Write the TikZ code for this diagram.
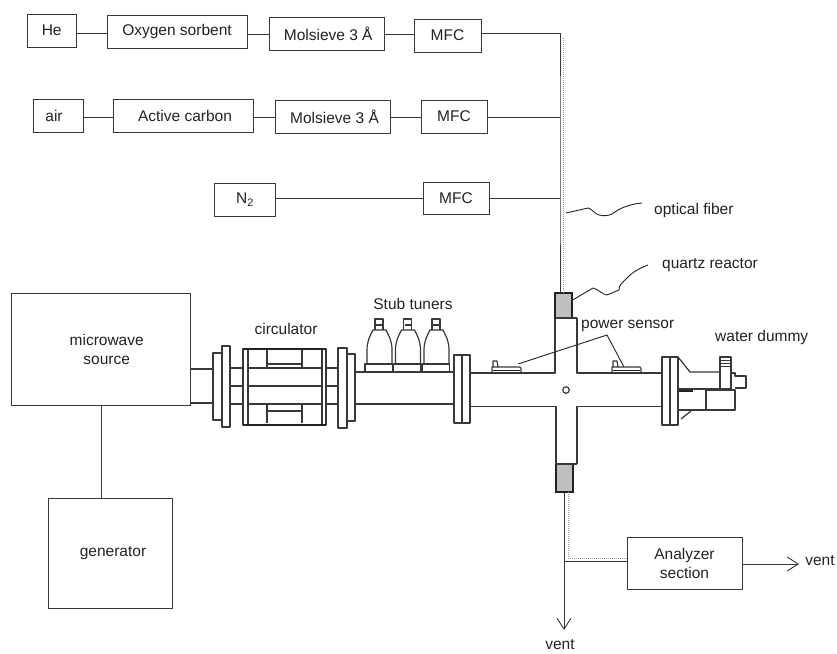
\documentclass[tikz,border=0pt]{standalone}
\usepackage{fontspec}
\setmainfont{Liberation Sans}
\usetikzlibrary{arrows.meta}
\definecolor{ink}{HTML}{222222}
\tikzset{
  bx/.style={draw=ink!90,line width=.9pt,inner sep=0pt,align=center,text=ink,font=\fontsize{15.5}{19}\selectfont},
  lbl/.style={inner sep=0pt,text=ink,align=center,font=\fontsize{15.5}{19}\selectfont},
  pipe/.style={draw=ink!90,line width=.9pt},
  fibre/.style={draw=gray!80,line width=1pt,dash pattern=on 1pt off 1pt},
  hw/.style={draw=ink!90,line width=1.2pt,line join=round},
  thickhw/.style={draw=ink,line width=2.4pt},
  lead/.style={draw=ink,line width=.9pt},
  vent/.style={draw=ink!90,line width=.9pt,-{Straight Barb[length=11pt,width=14pt,line width=.9pt]}},
  quartz/.style={draw=ink,line width=1.5pt,fill=gray!50}
}
\begin{document}
\begin{tikzpicture}[x=1pt,y=-1pt]
\useasboundingbox (0,0) rectangle (837,653);
% gas row 1
\node[bx,minimum width=49.5pt,minimum height=33pt] (he) at (51.7,30.5) {He};
\node[bx,minimum width=140pt,minimum height=33pt] (ox) at (177,31.7) {Oxygen sorbent};
\node[bx,minimum width=115pt,minimum height=33pt] (ms1) at (326.7,34) {\kern3pt Molsieve 3 Å};
\node[bx,minimum width=67pt,minimum height=33pt] (mfc1) at (447.5,35.5) {MFC};
% gas row 2
\node[bx,minimum width=50pt,minimum height=33pt] (air) at (58.5,116) {air\kern9pt};
\node[bx,minimum width=140pt,minimum height=33pt] (ac) at (183.5,116) {\kern3pt Active carbon};
\node[bx,minimum width=115pt,minimum height=33pt] (ms2) at (333,117) {\kern3pt Molsieve 3 Å};
\node[bx,minimum width=66pt,minimum height=33pt] (mfc2) at (454,116.5) {MFC};
% gas row 3
\node[bx,minimum width=61.5pt,minimum height=33pt] (n2) at (245,199.5) {N\textsubscript{2}};
\node[bx,minimum width=66pt,minimum height=32pt] (mfc3) at (456,198) {MFC};
% sinks and sources
\node[bx,minimum width=178.5pt,minimum height=112pt] (mw) at (100.7,349.5) {\kern12pt microwave\\\kern12pt source};
\node[bx,minimum width=124pt,minimum height=110pt] (gen) at (110.5,553) {\kern5pt generator};
\node[bx,minimum width=115pt,minimum height=52pt] (an) at (684.5,563) {Analyzer\\section};
% reactors
\node[quartz,minimum width=17pt,minimum height=25pt,inner sep=0pt] (qt) at (563.5,305.5) {};
\node[quartz,minimum width=17pt,minimum height=28pt,inner sep=0pt] (qb) at (564.5,478) {};
% free ends
\coordinate (j1) at (560,33.5);
\coordinate (j2) at (560,117);
\coordinate (j3) at (560,198);
\coordinate (jb) at (564,561);
\coordinate (ve) at (564,630);
\coordinate (vr) at (799,564);
% connectors
\draw[pipe] (he.east |- 0,33) -- (ox.west |- 0,33);
\draw[pipe] (ox.east |- 0,34) -- (ms1.west |- 0,34);
\draw[pipe] (ms1.east |- 0,34.5) -- (mfc1.west |- 0,34.5);
\draw[pipe] (air.east |- j2) -- (ac.west |- j2);
\draw[pipe] (ac.east |- j2) -- (ms2.west |- j2);
\draw[pipe] (ms2.east |- j2) -- (mfc2.west |- j2);
\draw[pipe] (n2.east |- j3) -- (mfc3.west |- j3);
\draw[pipe] (mfc1.east |- j1) -- (j1) -- (j2) -- (j3) -- (qt.north -| j1);
\draw[pipe] (mfc2.east |- j2) -- (j2);
\draw[pipe] (mfc3.east |- j3) -- (j3);
\draw[fibre] (563.7,38) -- (563.7,293);
\draw[pipe] (qb.south -| jb) -- (jb) -- (jb -| an.west);
\draw[vent] (jb) -- (ve);
\draw[fibre] (568,492) -- (568,558) -- (627,558);
\draw[vent] (an.east |- vr) -- (vr);
\draw[pipe] (mw.south -| 101,0) -- (gen.north -| 101,0);
% labels
\node[lbl,anchor=west] (lfib) at (654,210) {optical fiber};
\node[lbl,anchor=west] (lqz) at (662,265) {quartz reactor};
\node[lbl,anchor=west] (lps) at (581,326) {power sensor};
\node[lbl,anchor=west] (lwd) at (715,337) {water dummy};
\node[lbl] (lst) at (413,304) {Stub tuners};
\node[lbl] (lci) at (286,329) {circulator};
\node[lbl] (lv1) at (820,561) {vent};
\node[lbl] (lv2) at (560,645) {vent};
% wavy leaders
\draw[lead] (566,213) -- (588,208) .. controls (592,209) and (595,214) .. (599,215) .. controls (604,216) and (608,216) .. (612,214) .. controls (620,208) and (630,204) .. (642,203);
\draw[lead] (qt.east |- 0,300) -- (593,288) .. controls (598,289) and (603,295) .. (607,295) -- (619,290) .. controls (619,285) and (622,283) .. (625,280) .. controls (632,272) and (640,268) .. (648,265);
\draw[lead] (518,364) -- (607,335) -- (624,367);
% waveguide left
\draw[hw] (190,369) -- (213,369) (190,403) -- (213,403);
\draw[hw] (213,353) rectangle (222,420);
\draw[hw] (222,346) rectangle (230,427);
% circulator
\draw[hw] (230,368) -- (243,368) (248,368) -- (322,368) (326,368) -- (338,368);
\draw[hw] (230,386) -- (243,386) (248,386) -- (322,386) (326,386) -- (338,386);
\draw[hw] (230,404) -- (243,404) (248,404) -- (322,404) (326,404) -- (338,404);
\draw[hw] (243,349) rectangle (248,425);
\draw[hw] (322,349) rectangle (326,425);
\draw[thickhw] (243,349) -- (326,349) (243,425) -- (326,425);
\draw[hw] (267,350) -- (267,368) (302,350) -- (302,368) (267,364) -- (302,364);
\draw[hw] (267,404) -- (267,423) (302,404) -- (302,423) (267,411) -- (302,411);
% second section
\draw[hw] (338,348) rectangle (347,428);
\draw[hw] (347,354) rectangle (355,421);
\draw[hw] (355,372) -- (454,372) (355,404) -- (454,404);
\draw[hw] (454,355) rectangle (462,423);
\draw[hw] (462,355) rectangle (470,423);
% stubs
\foreach \d in {0,28.5,57}{
\begin{scope}[xshift=\d pt]
\draw[hw] (365,364) rectangle (392.5,372);
\draw[hw] (367,364) -- (367,350) .. controls (367,341) and (370,336) .. (373,330) -- (386,330) .. controls (389,336) and (392,341) .. (392,350) -- (392,364);
\draw[hw] (375,330) -- (375,319) -- (383,319) -- (383,330);
\draw[hw] (376,325) -- (382,325);
\end{scope}}
% cross
\draw[hw] (470,373) -- (555,373) -- (555,318);
\draw[hw] (577,318) -- (577,373) -- (662,373);
\draw[hw] (470,406.5) -- (556,406.5) -- (556,464);
\draw[hw] (577,464) -- (577,406.5) -- (662,406.5);
\draw[hw] (555,318) -- (577,318) (556,464) -- (577,464);
\draw[hw] (566,390) circle (3.3);
% power sensors
\foreach \d in {0,120}{
\begin{scope}[xshift=\d pt]
\draw[hw] (492,373) -- (492,367) -- (520,367) .. controls (521,368) .. (521,373);
\draw[hw] (493,367) -- (493,361) -- (497,361) -- (498,367);
\draw[lead] (493,370) -- (520,370);
\end{scope}}
% right end
\draw[hw] (662,357) rectangle (670,425);
\draw[hw] (670,357) rectangle (678,425);
\draw[hw] (678,357) -- (690,372) -- (720,372);
\draw[hw] (681,419) -- (691,411);
\draw[hw] (678,410) -- (706,410);
\draw[thickhw,line width=1.8pt] (679,391) -- (693,391);
\draw[hw] (678,389) -- (720,389);
\draw[hw] (720,389) -- (720,357) -- (731,357) -- (731,389) -- (720,389);
\draw[hw,line width=.9pt] (721,360) -- (730,360) (721,363) -- (730,363) (721,366) -- (730,366);
\draw[hw] (731,373) -- (735,373) -- (735,376) -- (746,376) -- (746,388) -- (735,388);
\draw[hw] (706,390) rectangle (735,410);
\end{tikzpicture}
\end{document}
